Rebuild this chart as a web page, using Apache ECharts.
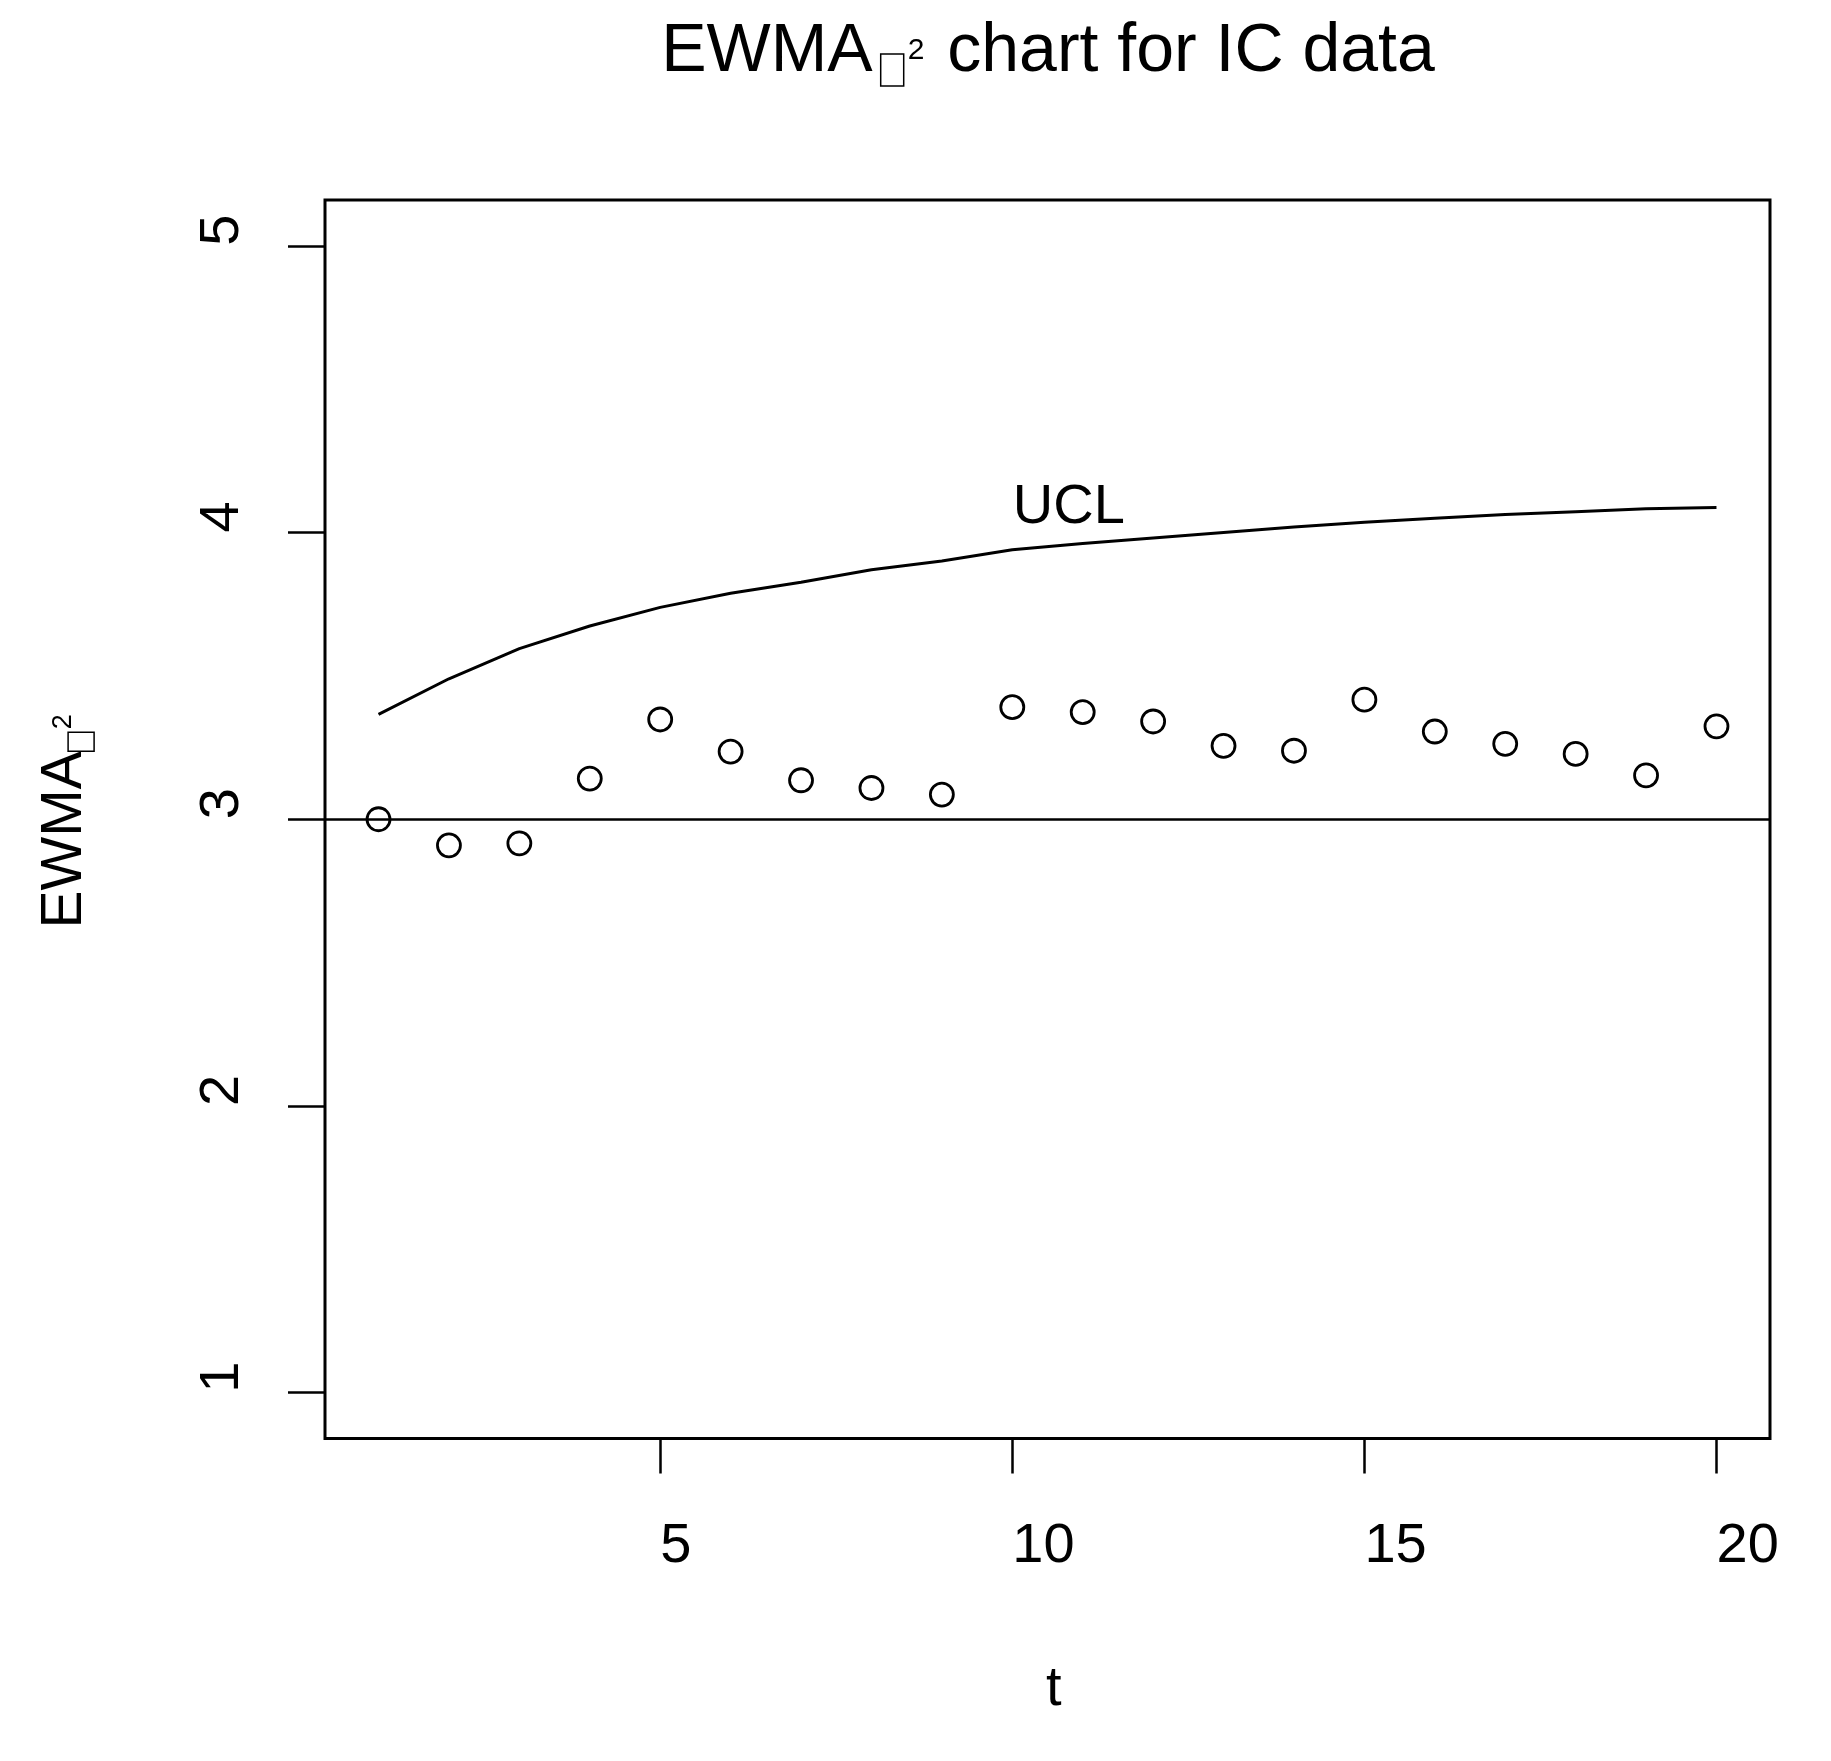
<!DOCTYPE html>
<html>
<head>
<meta charset="utf-8">
<script src="https://cdn.jsdelivr.net/npm/echarts@6/dist/echarts.min.js"></script>
<style>
html,body{margin:0;padding:0;background:#fff;}
#chart{width:1831px;height:1761px;}
</style>
</head>
<body>
<div id="chart"></div>
<script>
// ---- data ----
const t = [1,2,3,4,5,6,7,8,9,10,11,12,13,14,15,16,17,18,19,20];
const ewma = [3.000, 2.909, 2.916, 3.142, 3.348, 3.236, 3.136, 3.109, 3.086, 3.391,
              3.374, 3.341, 3.256, 3.239, 3.417, 3.306, 3.263, 3.228, 3.153, 3.324];
const ucl = [3.366, 3.490, 3.595, 3.674, 3.739, 3.788, 3.827, 3.870, 3.901, 3.940,
             3.962, 3.981, 4.000, 4.019, 4.036, 4.050, 4.063, 4.073, 4.083, 4.087];
const centerLine = 3;
const xTicks = [5, 10, 15, 20];
const yTicks = [1, 2, 3, 4, 5];
const uclLabelText = 'UCL';
const uclLabelAt = [10, 4.087];
const titleParts = ['EWMA', '2', ' chart for IC data'];
const yNameParts = ['EWMA', '2'];
const xName = 't';

// ---- chart ----
const F = 'Liberation Sans, Arial, Helvetica, sans-serif';
const chart = echarts.init(document.getElementById('chart'), null, {renderer: 'canvas'});

const scatterData = t.map((x, i) => [x, ewma[i]]);
const uclData = t.map((x, i) => [x, ucl[i]]);

const titleRich = {
  m: {fontSize: 68, fontFamily: F, lineHeight: 68, height: 68, verticalAlign: 'bottom', color: '#000', padding: [0, 8, 0, 0]},
  b: {width: 23, height: 32, borderColor: '#000', borderWidth: 1.5, verticalAlign: 'bottom', fontSize: 12},
  s: {fontSize: 30, fontFamily: F, lineHeight: 66, height: 66, verticalAlign: 'bottom', color: '#000', padding: [0, 0, 2, 4]},
  r: {fontSize: 68, fontFamily: F, lineHeight: 68, height: 68, verticalAlign: 'bottom', color: '#000', padding: [0, 0, 0, 4]}
};
const yRich = {
  m: {fontSize: 57, fontFamily: F, lineHeight: 57, height: 57, verticalAlign: 'bottom', color: '#000'},
  b: {width: 19, height: 26, borderColor: '#000', borderWidth: 1.5, verticalAlign: 'bottom', fontSize: 12},
  s: {fontSize: 27, fontFamily: F, lineHeight: 57, height: 57, verticalAlign: 'bottom', color: '#000', padding: [0, 0, 2, 3]}
};

const option = {
  animation: false,
  backgroundColor: '#fff',
  grid: {
    left: 325, right: 61, top: 200, bottom: 322.5,
    show: true, borderColor: '#000', borderWidth: 3, backgroundColor: 'transparent'
  },
  xAxis: {
    type: 'value', min: 0.24, max: 20.76,
    axisLine: {show: false},
    splitLine: {show: false},
    axisTick: {show: true, customValues: xTicks, length: 35, lineStyle: {color: '#000', width: 2.5}},
    axisLabel: {
      customValues: xTicks, fontSize: 56, fontFamily: F, color: '#000',
      align: 'left', verticalAlign: 'top', margin: 80
    }
  },
  yAxis: {
    type: 'value', min: 0.84, max: 5.16,
    axisLine: {show: false},
    splitLine: {show: false},
    axisTick: {show: true, customValues: yTicks, length: 37, lineStyle: {color: '#000', width: 2.5}},
    axisLabel: {
      customValues: yTicks, fontSize: 56, fontFamily: F, color: '#000',
      rotate: 90, align: 'left', verticalAlign: 'middle', margin: 102
    }
  },
  series: [
    {
      type: 'line', data: uclData, showSymbol: false, symbol: 'none',
      lineStyle: {color: '#000', width: 3}, silent: true, z: 2
    },
    {
      type: 'scatter', data: scatterData, symbol: 'circle', symbolSize: 23,
      itemStyle: {color: 'rgba(255,255,255,0)', borderColor: '#000', borderWidth: 2.8, opacity: 1},
      silent: true, z: 3,
      markLine: {
        silent: true, symbol: ['none', 'none'], label: {show: false},
        lineStyle: {color: '#000', width: 2.5, type: 'solid'},
        data: [{yAxis: centerLine}]
      }
    },
    {
      type: 'scatter', data: [uclLabelAt], symbolSize: 1,
      itemStyle: {color: '#000', opacity: 0}, silent: true, z: 4,
      label: {
        show: true, position: 'right', distance: 0, formatter: uclLabelText,
        fontSize: 56, fontFamily: F, color: '#000000', opacity: 1
      }
    }
  ],
  graphic: [
    {
      type: 'text', x: 1048, y: 18, silent: true,
      style: {
        text: '{m|' + titleParts[0] + '}{b| }{s|' + titleParts[1] + '}{r|' + titleParts[2] + '}',
        rich: titleRich, align: 'center', verticalAlign: 'top',
        textAlign: 'center', textVerticalAlign: 'top'
      }
    },
    {
      type: 'text', x: 37.1, y: 928.5, rotation: Math.PI / 2, silent: true,
      style: {
        text: '{m|' + yNameParts[0] + '}{b| }{s|' + yNameParts[1] + '}',
        rich: yRich, align: 'left', verticalAlign: 'top',
        textAlign: 'left', textVerticalAlign: 'top'
      }
    },
    {
      type: 'text', x: 1046, y: 1689.6, silent: true,
      style: {
        text: xName, fontSize: 56, fontFamily: F, fill: '#000',
        align: 'left', verticalAlign: 'middle', textAlign: 'left', textVerticalAlign: 'middle'
      }
    }
  ]
};
chart.setOption(option);
</script>
</body>
</html>
